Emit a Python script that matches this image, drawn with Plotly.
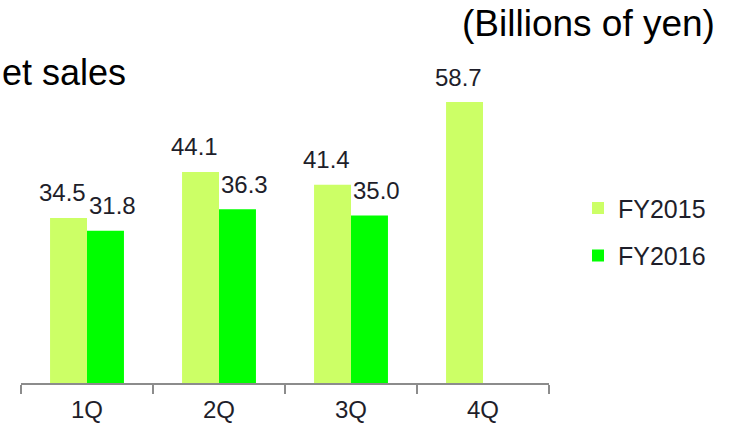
import plotly.graph_objects as go

categories = ["1Q", "2Q", "3Q", "4Q"]
fy2015 = [34.5, 44.1, 41.4, 58.7]
fy2016 = [31.8, 36.3, 35.0, None]
series_names = ["FY2015", "FY2016"]

FONT = "Liberation Sans, Arial, sans-serif"
C15 = "#CCFF66"
C16 = "#00FF00"
TXT = "#1e1e2a"

fig = go.Figure()
fig.add_trace(go.Bar(x=categories, y=fy2015, name=series_names[0],
                     marker=dict(color=C15, line=dict(width=0)),
                     legendgroup="a"))
fig.add_trace(go.Bar(x=categories, y=fy2016, name=series_names[1],
                     marker=dict(color=C16, line=dict(width=0)),
                     legendgroup="b"))

# value labels
for vals, xs in ((fy2015, -25), (fy2016, 25)):
    for c, v in zip(categories, vals):
        if v is None:
            continue
        fig.add_annotation(x=c, y=v, xref="x", yref="y", text=f"{v:.1f}",
                           showarrow=False, xanchor="center", yanchor="middle",
                           xshift=xs, yshift=25,
                           font=dict(family=FONT, size=24, color=TXT))

fig.add_annotation(x=0 / 528, y=1 + (48 - 87) / 335,
                   xref="paper", yref="paper", text="et sales",
                   showarrow=False, xanchor="left", yanchor="bottom",
                   xshift=-21, yshift=-8,
                   font=dict(family=FONT, size=36, color="black"))
fig.add_annotation(x=(717 - 21) / 528, y=1 + (48 - 38) / 335,
                   xref="paper", yref="paper", text="(Billions of yen)",
                   showarrow=False, xanchor="right", yanchor="bottom",
                   yshift=-8,
                   font=dict(family=FONT, size=37, color="black"))

fig.update_layout(
    width=734, height=430,
    margin=dict(l=21, r=185, t=48, b=47),
    paper_bgcolor="white", plot_bgcolor="white",
    barmode="group", bargap=0.44, bargroupgap=0,
    showlegend=True,
    legend=dict(x=(578 - 21) / 528, y=0.59, xanchor="left", yanchor="top",
                traceorder="grouped", tracegroupgap=12,
                font=dict(family=FONT, size=25, color=TXT),
                bgcolor="rgba(0,0,0,0)"),
    xaxis=dict(showline=True, linecolor="#8c8c8c", linewidth=2,
               ticks="outside", tickson="boundaries", ticklen=9,
               tickcolor="#8c8c8c", tickwidth=2, ticklabelstandoff=4,
               tickfont=dict(family=FONT, size=24, color=TXT),
               showgrid=False, range=[-0.5, 3.5], automargin=False),
    yaxis=dict(visible=False, range=[0, 70], showgrid=False, automargin=False),
)

fig.write_html("out.html")
